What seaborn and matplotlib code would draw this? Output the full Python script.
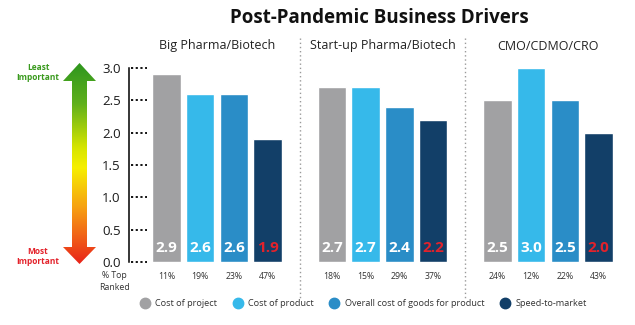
import numpy as np
import pandas as pd
import matplotlib
matplotlib.use("Agg")
import matplotlib.pyplot as plt
import seaborn as sns
from matplotlib.colors import LinearSegmentedColormap
from matplotlib.patches import Polygon
from matplotlib.lines import Line2D

# ---- data ----
groups = ["Big Pharma/Biotech", "Start-up Pharma/Biotech", "CMO/CDMO/CRO"]
drivers = ["Cost of project", "Cost of product", "Overall cost of goods for product", "Speed-to-market"]
cost_of_project = [2.9, 2.7, 2.5]
cost_of_product = [2.6, 2.7, 3.0]
overall_cost_goods = [2.6, 2.4, 2.5]
speed_to_market = [1.9, 2.2, 2.0]
pct_top_ranked = [["11%", "19%", "23%", "47%"],
                  ["18%", "15%", "29%", "37%"],
                  ["24%", "12%", "22%", "43%"]]
yticks = [0.0, 0.5, 1.0, 1.5, 2.0, 2.5, 3.0]
title = "Post-Pandemic Business Drivers"

colors = ["#a1a1a3", "#36b9ea", "#2a8dc7", "#123f68"]
red = "#e3222b"

series = [cost_of_project, cost_of_product, overall_cost_goods, speed_to_market]
rows = []
for d, vals in zip(drivers, series):
    for g, v in zip(groups, vals):
        rows.append({"group": g, "driver": d, "value": v})
df = pd.DataFrame(rows)

sns.set_theme(style="white")
plt.rcParams["font.family"] = ["Open Sans", "DejaVu Sans"]

W, H = 635, 325
fig = plt.figure(figsize=(W / 100, H / 100), dpi=100)

def fx(px):
    return px / W

def fy(py):
    return 1 - py / H

ax_left, ax_right, y0, y3 = 129, 630, 262, 68
ax = fig.add_axes([fx(ax_left), fy(y0), fx(ax_right - ax_left), (y0 - y3) / H])
sns.barplot(data=df, x="group", y="value", hue="driver", order=groups, hue_order=drivers,
            palette=colors, width=0.815, gap=0.15, ax=ax, legend=False, saturation=1)
grp_px = 165.5
left_lim = -(217 - ax_left) / grp_px
ax.set_xlim(left_lim, left_lim + (ax_right - ax_left) / grp_px)
ax.set_ylim(0, 3)
ax.set_xlabel("")
ax.set_ylabel("")
ax.set_xticks([])
ax.set_yticks(yticks)
ax.set_yticklabels([f"{t:.1f}" for t in yticks], fontsize=9.5, color="#1a1a1a")
ax.tick_params(axis="y", length=0, pad=6)
for s in ["top", "right", "bottom"]:
    ax.spines[s].set_visible(False)
ax.spines["left"].set_color("black")
ax.spines["left"].set_linewidth(1.1)
ax.patch.set_alpha(0)

# dotted ticks
trans = matplotlib.transforms.blended_transform_factory(ax.transAxes, ax.transData)
tick_len = 18 / (ax_right - ax_left)
for t in yticks:
    ax.add_line(Line2D([0.004, tick_len], [t, t], transform=trans, color="black", lw=1.3,
                       linestyle=(0, (1.2, 1.4)), clip_on=False, zorder=5))

# value labels and % row
patches = sorted(ax.patches, key=lambda p: p.get_x())
for i, p in enumerate(patches):
    g, j = divmod(i, 4)
    cx = p.get_x() + p.get_width() / 2
    val = series[j][g]
    ax.text(cx, 0.22, f"{val:.1f}", ha="center", va="center", fontsize=11,
            fontweight="bold", color=red if j == 3 else "white")
    ax.text(cx, -0.22, pct_top_ranked[g][j], ha="center", va="center", fontsize=6.3,
            color="#333333", clip_on=False)

fig.text(fx(114), fy(276), "% Top", ha="center", va="center", fontsize=6.3, color="#333333")
fig.text(fx(114), fy(288), "Ranked", ha="center", va="center", fontsize=6.3, color="#333333")

# panel titles
for g, name in enumerate(groups):
    xc = ax_left + (g - left_lim) * grp_px
    fig.text(fx(xc), fy(46), name, ha="center", va="center", fontsize=9, color="#222222")

# separators
for xs in [0.5, 1.5]:
    xp = ax_left + (xs - left_lim) * grp_px
    fig.add_artist(Line2D([fx(xp), fx(xp)], [fy(38), fy(300)], color="#9a9a9a", lw=1.0,
                          linestyle=(0, (1, 2))))

# title
fig.text(fx(379), fy(18), title, ha="center", va="center", fontsize=13.5, fontweight="bold",
         color="#111111")

# legend
handles = [Line2D([0], [0], marker="o", linestyle="none", markersize=7.5,
                  markerfacecolor=c, markeredgecolor=c) for c in colors]
fig.legend(handles, drivers, loc="center", bbox_to_anchor=(fx(361), fy(304)), ncol=4,
           frameon=False, fontsize=6.6, handletextpad=0.1, columnspacing=1.3,
           labelcolor="#333333")

# gradient arrow
aax = fig.add_axes([fx(56), fy(268), fx(48), (268 - 58) / H])
aax.set_xlim(56, 104)
aax.set_ylim(268, 58)
aax.axis("off")
cmap = LinearSegmentedColormap.from_list(
    "arr", [(0.0, "#2e961e"), (0.2, "#5fb01c"), (0.42, "#d6e500"), (0.52, "#f6ef00"),
            (0.72, "#f7a012"), (0.88, "#f05a18"), (1.0, "#e8231a")])
grad = np.linspace(0, 1, 256).reshape(-1, 1)
im = aax.imshow(grad, cmap=cmap, aspect="auto", extent=(56, 104, 264, 63))
tipx = 79.5
poly = Polygon([(tipx, 63), (96, 81), (87, 81), (87, 247), (96, 247), (tipx, 264),
                (63, 247), (72, 247), (72, 81), (63, 81)], closed=True,
               facecolor="none", edgecolor="none", transform=aax.transData)
aax.add_patch(poly)
im.set_clip_path(poly)

lbl = dict(ha="center", va="center", fontsize=6, fontweight="bold")
fig.text(fx(38), fy(67), "Least", color="#3a9a1e", **lbl)
fig.text(fx(38), fy(77), "Important", color="#3a9a1e", **lbl)
fig.text(fx(38), fy(252), "Most", color=red, **lbl)
fig.text(fx(38), fy(262), "Important", color=red, **lbl)

fig.savefig("out.png", dpi=100, facecolor="white")
